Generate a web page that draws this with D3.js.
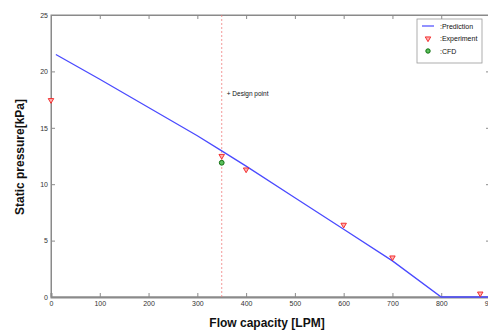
<!DOCTYPE html>
<html>
<head>
<meta charset="utf-8">
<script src="https://cdn.jsdelivr.net/npm/d3@7"></script>
<style>
  body { margin: 0; background: #fff; }
  svg { display: block; font-family: "Liberation Sans", Arial, sans-serif; }
</style>
</head>
<body>
<svg id="chart" width="488" height="334"></svg>
<script>
// Prediction curve (flow [LPM], pressure [kPa])
const predFlow = [10, 100, 200, 300, 350, 400, 500, 600, 700, 800, 900];
const predPressure = [21.5, 19.3, 16.8, 14.3, 12.95, 11.6, 8.8, 6.0, 3.2, 0, 0];

// Experiment points
const expFlow = [0, 350, 400, 600, 700, 880];
const expPressure = [17.45, 12.5, 11.3, 6.4, 3.5, 0.3];

// CFD point
const cfdFlow = [350];
const cfdPressure = [11.9];

const designFlow = 350;
const xTicks = [0, 100, 200, 300, 400, 500, 600, 700, 800, 900];
const yTicks = [0, 5, 10, 15, 20, 25];
const legendLabels = [":Prediction", ":Experiment", ":CFD"];

const margin = { top: 15, right: -2, bottom: 37, left: 51 };
const width = 488, height = 334;

const svg = d3.select("#chart");

const x = d3.scaleLinear().domain([0, 900]).range([margin.left, width - margin.right]);
const y = d3.scaleLinear().domain([0, 25]).range([height - margin.bottom, margin.top]);

const axisColor = "#8a8a8a";

// Frame
svg.append("rect")
  .attr("x", x(0)).attr("y", y(25))
  .attr("width", x(900) - x(0)).attr("height", y(0) - y(25))
  .attr("fill", "none").attr("stroke", axisColor).attr("stroke-width", 1);

// Axes (matlab-like: ticks inside)
const xAxis = svg.append("g")
  .attr("transform", `translate(0,${y(0)})`)
  .call(d3.axisBottom(x).tickValues(xTicks).tickSize(-4).tickPadding(4));
const xTop = svg.append("g")
  .attr("transform", `translate(0,${y(25)})`)
  .call(d3.axisTop(x).tickValues(xTicks).tickSize(-4).tickFormat(""));
const yAxis = svg.append("g")
  .attr("transform", `translate(${x(0)},0)`)
  .call(d3.axisLeft(y).tickValues(yTicks).tickSize(-4).tickPadding(3));
const yRight = svg.append("g")
  .attr("transform", `translate(${x(900)},0)`)
  .call(d3.axisRight(y).tickValues(yTicks).tickSize(-4).tickFormat(""));

[xAxis, xTop, yAxis, yRight].forEach(g => {
  g.select(".domain").attr("stroke", axisColor);
  g.selectAll(".tick line").attr("stroke", axisColor);
  g.selectAll("text").attr("fill", "#333").attr("font-size", 7).attr("font-family", "Liberation Sans Narrow, Liberation Sans, sans-serif");
});
xAxis.select(".domain").attr("stroke-width", 2);

// Design point dashed line
svg.append("line")
  .attr("x1", x(designFlow)).attr("x2", x(designFlow))
  .attr("y1", y(25)).attr("y2", y(0))
  .attr("stroke", "#f08080").attr("stroke-width", 0.8)
  .attr("stroke-dasharray", "2,2");

svg.append("text")
  .attr("x", x(designFlow) + 5).attr("y", y(18) + 2)
  .attr("font-size", 6.5)
  .attr("font-family", "Liberation Sans Narrow, Liberation Sans, sans-serif")
  .attr("fill", "#111")
  .text("+ Design point");

// Prediction line
const predData = predFlow.map((f, i) => [f, predPressure[i]]);
svg.append("path")
  .datum(predData)
  .attr("fill", "none")
  .attr("stroke", "#4a4aff")
  .attr("stroke-width", 1.3)
  .attr("d", d3.line().x(d => x(d[0])).y(d => y(d[1])));

// Experiment markers
const tri = d3.symbol().type(d3.symbolTriangle).size(13);
svg.selectAll(".exp")
  .data(expFlow.map((f, i) => [f, expPressure[i]]))
  .enter()
  .append("path")
  .attr("class", "exp")
  .attr("d", tri)
  .attr("transform", d => `translate(${x(d[0])},${y(d[1])}) rotate(180)`)
  .attr("fill", "#ffb0b0")
  .attr("stroke", "#f02020")
  .attr("stroke-width", 0.9);

// CFD markers
svg.selectAll(".cfd")
  .data(cfdFlow.map((f, i) => [f, cfdPressure[i]]))
  .enter()
  .append("circle")
  .attr("class", "cfd")
  .attr("cx", d => x(d[0])).attr("cy", d => y(d[1]))
  .attr("r", 2.4)
  .attr("fill", "#5cc05c")
  .attr("stroke", "#107010")
  .attr("stroke-width", 1);

// Legend
const lg = svg.append("g").attr("transform", "translate(417,19)");
lg.append("rect")
  .attr("width", 65).attr("height", 44)
  .attr("fill", "#fff").attr("stroke", "#999").attr("stroke-width", 0.8);
legendLabels.forEach((lab, i) => {
  const cy = 7 + i * 12.5;
  if (i === 0) {
    lg.append("line").attr("x1", 5).attr("x2", 17).attr("y1", cy).attr("y2", cy)
      .attr("stroke", "#4a4aff").attr("stroke-width", 1.2);
  } else if (i === 1) {
    lg.append("path").attr("d", tri)
      .attr("transform", `translate(11,${cy}) rotate(180)`)
      .attr("fill", "#ffb0b0").attr("stroke", "#f02020").attr("stroke-width", 0.9);
  } else {
    lg.append("circle").attr("cx", 11).attr("cy", cy).attr("r", 2.2)
      .attr("fill", "#5cc05c").attr("stroke", "#107010").attr("stroke-width", 1);
  }
  lg.append("text")
    .attr("x", 23).attr("y", cy + 2.5)
    .attr("font-size", 7)
    .attr("font-family", "Liberation Sans Narrow, Liberation Sans, sans-serif")
    .attr("fill", "#111")
    .text(lab);
});

// Axis titles
svg.append("text")
  .attr("x", 267).attr("y", 327)
  .attr("text-anchor", "middle")
  .attr("font-size", 12)
  .attr("font-weight", "bold")
  .attr("fill", "#111")
  .text("Flow capacity [LPM]");

svg.append("text")
  .attr("transform", "translate(24,157) rotate(-90)")
  .attr("text-anchor", "middle")
  .attr("font-size", 12)
  .attr("font-weight", "bold")
  .attr("fill", "#111")
  .text("Static pressure[kPa]");
</script>
</body>
</html>
